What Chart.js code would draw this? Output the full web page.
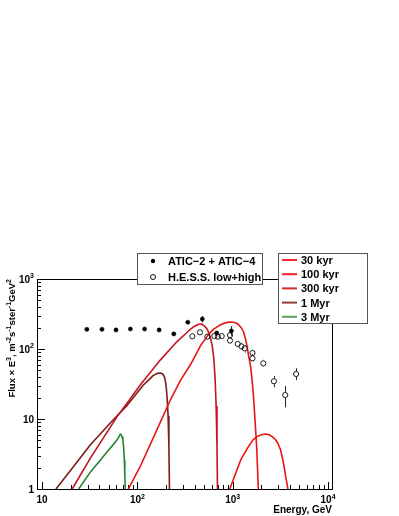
<!DOCTYPE html>
<html>
<head>
<meta charset="utf-8">
<script src="https://cdn.jsdelivr.net/npm/chart.js@4.4.1/dist/chart.umd.min.js"></script>
<style>
  body { margin: 0; background: #fff; }
  canvas { display: block; }
</style>
</head>
<body>
<canvas id="spectrum" width="399" height="516"></canvas>
<script>
// ATIC-2 + ATIC-4, filled dots (energy GeV, flux x E^3)
const aticE = [29.5, 42.5, 59.7, 84.4, 119, 169, 241, 338, 480, 679, 969];
const aticF = [191, 191, 187, 193, 193, 187, 164, 241, 268, 169, 181];
const aticLo = [null, null, null, null, null, null, null, null, 239, null, 155];
const aticHi = [null, null, null, null, null, null, null, null, 295, null, 212];

// H.E.S.S. low+high, open circles
const hessE = [377, 453, 542, 641, 700, 766, 937, 937, 1129, 1236, 1337, 1611, 1611, 2094, 2704, 3556, 4624];
const hessF = [152, 173, 150, 153, 150, 153, 158, 132, 118, 109, 102, 87.7, 73.6, 62.5, 34.6, 22.0, 44.0];
const hessLo = [null, null, null, null, null, null, null, null, 110, 101, 89, 80, 66, 56, 28.4, 14.7, 36];
const hessHi = [null, null, null, null, null, null, null, null, 127, 118, 114, 97, 84, 70, 41.1, 29.6, 53];

// model curves, [energy, flux]
const kyr30 = [[929, 1], [1050, 1.55], [1213, 2.6], [1440, 3.9], [1624, 5.0], [1800, 5.6], [2000, 5.95], [2223, 6.1], [2420, 5.95], [2600, 5.6], [2800, 5.1], [2979, 4.5], [3180, 3.6], [3357, 2.6], [3500, 1.9], [3611, 1.45], [3793, 1]];
const kyr100 = [[80.3, 1], [107.6, 2.13], [154.5, 6.3], [222, 18.7], [284, 36], [361, 60], [460, 112], [550, 158], [631, 192], [720, 216], [810, 233], [880, 240], [953, 243], [1020, 241], [1080, 235], [1156, 222], [1240, 198], [1305, 172], [1371, 134], [1420, 106], [1460, 83], [1545, 55], [1610, 32], [1662, 18.7], [1720, 9], [1790, 3.6], [1854, 1]];
const kyr300 = [[20.7, 1], [32, 2.74], [61.5, 10.9], [107.6, 30.8], [174.6, 70], [251, 121], [344, 181], [390, 208], [438, 226], [465, 227], [490, 220], [520, 205], [542, 190], [566, 165], [586, 140], [611, 110], [635, 70], [655, 35], [670, 15], [684, 4], [692, 1]];
const myr1 = [[14, 1], [21.2, 2.06], [32, 4.25], [52, 8.77], [78.5, 15.8], [115.6, 30.6], [135, 37.5], [147, 42], [162, 44.8], [175, 45.4], [185, 43.5], [192, 40.2], [198, 33], [202, 26], [206, 18], [210, 10.8], [214, 4], [217, 1]];
const myr3 = [[24.2, 1], [32, 1.73], [40, 2.5], [48.2, 3.41], [55, 4.2], [61, 5.0], [64, 5.6], [66.2, 6.1], [67.9, 5.9], [69.3, 5.5], [70.4, 5.0], [71.8, 3.9], [72.9, 2.6], [73.8, 1.6], [74.6, 1]];

const curveLabels = ['30 kyr', '100 kyr', '300 kyr', '1 Myr', '3 Myr'];
const curveColors = ['#ee1212', '#e81414', '#c41420', '#7a1c1c', '#22862a'];
const legendColors = ['#ff2a2a', '#f22222', '#d02a2a', '#8c3c3c', '#5c9e5c'];
const pointLabels = ['ATIC\u22122 + ATIC\u22124', 'H.E.S.S. low+high'];

const xMajor = [10, 100, 1000, 10000];
const xTickLabels = ['10', '10^{2}', '10^{3}', '10^{4}'];
const yMajor = [1, 10, 100, 1000];
const yTickLabels = ['1', '10', '10^{2}', '10^{3}'];
const xTitle = 'Energy, GeV';
const yTitle = 'Flux \u00d7 E^{3}, m^{-2}s^{-1}ster^{-1}GeV^{2}';

const FONT = '"Liberation Sans", Arial, sans-serif';

// text with ^{..} superscripts
function drawRich(ctx, src, x, y, align, size) {
  const parts = src.split(/\^\{([^}]*)\}/);
  const base = 'bold ' + size + 'px ' + FONT;
  const sup = 'bold ' + Math.round(size * 0.72) + 'px ' + FONT;
  let w = 0;
  parts.forEach((p, i) => { ctx.font = i % 2 ? sup : base; w += ctx.measureText(p).width; });
  let cx = align === 'right' ? x - w : align === 'center' ? x - w / 2 : x;
  ctx.textAlign = 'left';
  ctx.textBaseline = 'alphabetic';
  parts.forEach((p, i) => {
    ctx.font = i % 2 ? sup : base;
    ctx.fillText(p, cx, i % 2 ? y - size * 0.42 : y);
    cx += ctx.measureText(p).width;
  });
}

function minorTicks(scale, majors) {
  const out = [];
  for (const d of majors) {
    for (let m = 2; m <= 9; m++) {
      const v = d * m;
      if (v > scale.min * 1.05 && v < scale.max) out.push(v);
    }
  }
  return out;
}

const rootAxes = {
  id: 'rootAxes',
  beforeDatasetsDraw(chart) {
    const { ctx, chartArea: a, scales: { x, y } } = chart;
    ctx.save();
    ctx.strokeStyle = '#000';
    ctx.lineWidth = 1;
    ctx.strokeRect(a.left + 0.5, a.top + 0.5, a.right - a.left, a.bottom - a.top);

    ctx.beginPath();
    xMajor.forEach(v => {
      const px = Math.round(x.getPixelForValue(v)) + 0.5;
      ctx.moveTo(px, a.bottom); ctx.lineTo(px, a.bottom - 7);
    });
    minorTicks(x, xMajor).forEach(v => {
      const px = Math.round(x.getPixelForValue(v)) + 0.5;
      ctx.moveTo(px, a.bottom); ctx.lineTo(px, a.bottom - 4);
    });
    yMajor.forEach(v => {
      const py = Math.round(y.getPixelForValue(v)) + 0.5;
      ctx.moveTo(a.left, py); ctx.lineTo(a.left + 8, py);
    });
    minorTicks(y, yMajor).forEach(v => {
      const py = Math.round(y.getPixelForValue(v)) + 0.5;
      ctx.moveTo(a.left, py); ctx.lineTo(a.left + 4, py);
    });
    ctx.stroke();

    // error bars, stopping at the marker edge
    const bars = (E, F, lo, hi, r) => {
      ctx.beginPath();
      E.forEach((e, i) => {
        if (lo[i] == null) return;
        const px = Math.round(x.getPixelForValue(e)) + 0.5;
        const pc = y.getPixelForValue(F[i]);
        ctx.moveTo(px, y.getPixelForValue(hi[i])); ctx.lineTo(px, pc - r);
        ctx.moveTo(px, pc + r); ctx.lineTo(px, y.getPixelForValue(lo[i]));
      });
      ctx.stroke();
    };
    ctx.strokeStyle = '#222';
    bars(aticE, aticF, aticLo, aticHi, 0);
    bars(hessE, hessF, hessLo, hessHi, 3);

    // tick labels and titles
    ctx.fillStyle = '#000';
    xMajor.forEach((v, i) => drawRich(ctx, xTickLabels[i], x.getPixelForValue(v), a.bottom + 14, 'center', 10));
    yMajor.forEach((v, i) => drawRich(ctx, yTickLabels[i], a.left - 3, y.getPixelForValue(v) + 3.5, 'right', 10));
    drawRich(ctx, xTitle, a.right, 513, 'right', 10);
    ctx.translate(14.5, a.top);
    ctx.rotate(-Math.PI / 2);
    drawRich(ctx, yTitle, 0, 0, 'right', 9.5);
    ctx.restore();
  },
  afterDraw(chart) {
    const { ctx } = chart;
    ctx.save();
    ctx.lineWidth = 1;
    // data legend
    ctx.fillStyle = '#fff';
    ctx.fillRect(137, 253, 125, 31);
    ctx.strokeStyle = '#555';
    ctx.strokeRect(137.5, 253.5, 125, 31);
    ctx.fillStyle = '#000';
    ctx.beginPath(); ctx.arc(153, 261, 2.2, 0, Math.PI * 2); ctx.fill();
    ctx.strokeStyle = '#111';
    ctx.beginPath(); ctx.arc(153, 277, 2.5, 0, Math.PI * 2); ctx.stroke();
    drawRich(ctx, pointLabels[0], 168, 265, 'left', 11);
    drawRich(ctx, pointLabels[1], 168, 281, 'left', 11);

    // model legend
    ctx.fillStyle = '#fff';
    ctx.fillRect(278, 253, 89, 70);
    ctx.strokeStyle = '#555';
    ctx.strokeRect(278.5, 253.5, 89, 70);
    curveLabels.forEach((lab, i) => {
      const ly = 260 + i * 14.2;
      ctx.strokeStyle = legendColors[i];
      ctx.lineWidth = 2;
      ctx.beginPath(); ctx.moveTo(282, ly); ctx.lineTo(297, ly); ctx.stroke();
      ctx.fillStyle = '#000';
      drawRich(ctx, lab, 301, ly + 4, 'left', 11);
    });
    ctx.restore();
  }
};

const curves = [kyr30, kyr100, kyr300, myr1, myr3].map((pts, i) => ({
  label: curveLabels[i],
  data: pts.map(p => ({ x: p[0], y: p[1] })),
  showLine: true,
  fill: false,
  borderColor: curveColors[i],
  borderWidth: 1.6,
  borderJoinStyle: 'round',
  pointRadius: 0,
  tension: 0
}));

const chart = new Chart(document.getElementById('spectrum').getContext('2d'), {
  type: 'scatter',
  data: {
    datasets: [
      {
        label: pointLabels[0],
        data: aticE.map((e, i) => ({ x: e, y: aticF[i] })),
        pointStyle: 'circle',
        pointRadius: 2.1,
        pointBorderWidth: 0.5,
        borderColor: '#000',
        backgroundColor: '#000'
      },
      {
        label: pointLabels[1],
        data: hessE.map((e, i) => ({ x: e, y: hessF[i] })),
        pointStyle: 'circle',
        pointRadius: 2.6,
        pointBorderWidth: 1,
        borderColor: '#1a1a1a',
        backgroundColor: 'rgba(255,255,255,0)'
      },
      ...curves
    ]
  },
  options: {
    responsive: false,
    devicePixelRatio: 1,
    animation: false,
    events: [],
    layout: { padding: { left: 37, top: 279, right: 67, bottom: 27 } },
    scales: {
      x: { type: 'logarithmic', min: 8.85, max: 11000, display: false },
      y: { type: 'logarithmic', min: 1, max: 1000, display: false }
    },
    plugins: {
      legend: { display: false },
      tooltip: { enabled: false }
    }
  },
  plugins: [rootAxes]
});
</script>
</body>
</html>
